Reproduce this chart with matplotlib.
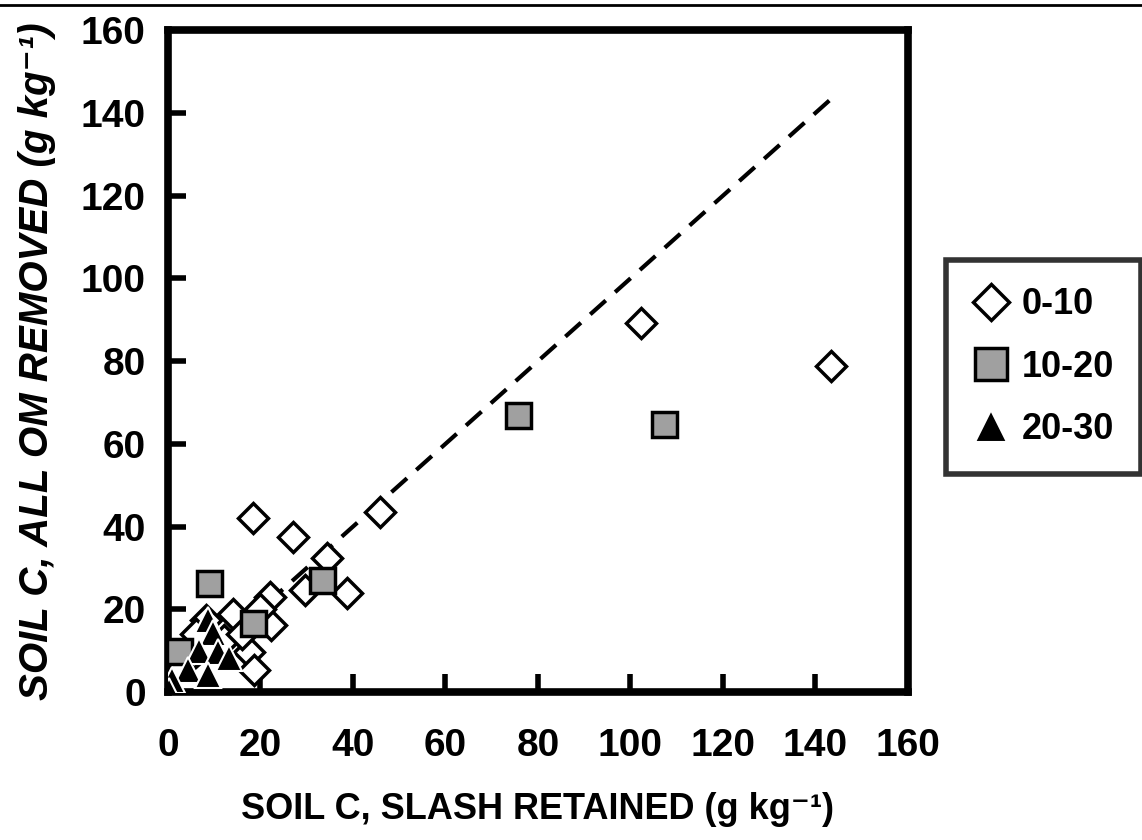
import matplotlib.pyplot as plt
from matplotlib.lines import Line2D

plt.rcParams['font.family'] = ['Liberation Sans', 'DejaVu Sans']
plt.rcParams['font.weight'] = 'bold'

# depth 0-10 cm
d1_x = [102.4, 143.4, 45.9, 18.4, 27.1, 34.3, 29.6, 38.7, 22.0, 22.4, 14.0, 8.3, 17.6, 18.7, 20.0, 12.2, 6.0, 16.0]
d1_y = [89.2, 78.8, 43.5, 42.0, 37.5, 32.4, 24.6, 23.9, 23.0, 16.2, 19.0, 17.4, 9.7, 5.3, 20.0, 12.6, 14.0, 14.0]
# depth 10-20 cm
d2_x = [75.6, 107.3, 33.3, 9.0, 18.4, 2.4]
d2_y = [66.9, 64.7, 27.1, 26.3, 16.6, 10.0]
# depth 20-30 cm
d3_x = [8.6, 9.7, 6.7, 10.8, 13.3, 4.3, 8.6, 1.0, 0.3]
d3_y = [17.4, 14.2, 10.0, 9.7, 8.2, 5.3, 4.1, 2.9, 0.3]

line_x = [0, 143]
line_y = [0, 143]

fig = plt.figure(figsize=(11.42, 8.4), dpi=100)
ax = fig.add_axes([0.147, 0.176, 0.648, 0.788])

ax.plot(line_x, line_y, 'k--', lw=3, dashes=(5, 3), zorder=2)
ax.plot(d1_x, d1_y, 'D', ms=15, mfc='white', mec='black', mew=2.5, ls='none', label='0-10', zorder=3)
ax.plot(d2_x, d2_y, 's', ms=18, mfc='#a0a0a0', mec='black', mew=2.5, ls='none', label='10-20', zorder=4)
ax.plot(d3_x, d3_y, '^', ms=19, mfc='black', mec='white', mew=1.5, ls='none', label='20-30', zorder=5)

ax.set_xlim(0, 160)
ax.set_ylim(0, 160)
ticks = [0, 20, 40, 60, 80, 100, 120, 140, 160]
ax.set_xticks(ticks)
ax.set_yticks(ticks)
ax.tick_params(direction='in', length=13, width=4, labelsize=28)
ax.tick_params(axis='x', pad=26)
ax.tick_params(axis='y', pad=16)
for s in ax.spines.values():
    s.set_linewidth(5.5)
for lab in ax.get_xticklabels() + ax.get_yticklabels():
    lab.set_fontweight('bold')

ax.set_xlabel('SOIL C, SLASH RETAINED (g kg\u207b\u00b9)', fontsize=26, fontweight='bold', labelpad=20)
ax.set_ylabel('SOIL C, ALL OM REMOVED (g kg\u207b\u00b9)', fontsize=29, fontweight='bold', style='italic', labelpad=18)

leg = fig.legend(loc='upper left', bbox_to_anchor=(0.828, 0.69), fontsize=26, frameon=True,
                 fancybox=False, edgecolor='black', handletextpad=0.35, labelspacing=0.75,
                 borderpad=0.75, handlelength=1.0, borderaxespad=0, markerscale=1.25)
leg.get_frame().set_linewidth(4)
for t in leg.get_texts():
    t.set_fontweight('bold')

fig.add_artist(Line2D([0, 1], [0.994, 0.994], color='black', lw=2))

plt.savefig('out.png', dpi=100)
